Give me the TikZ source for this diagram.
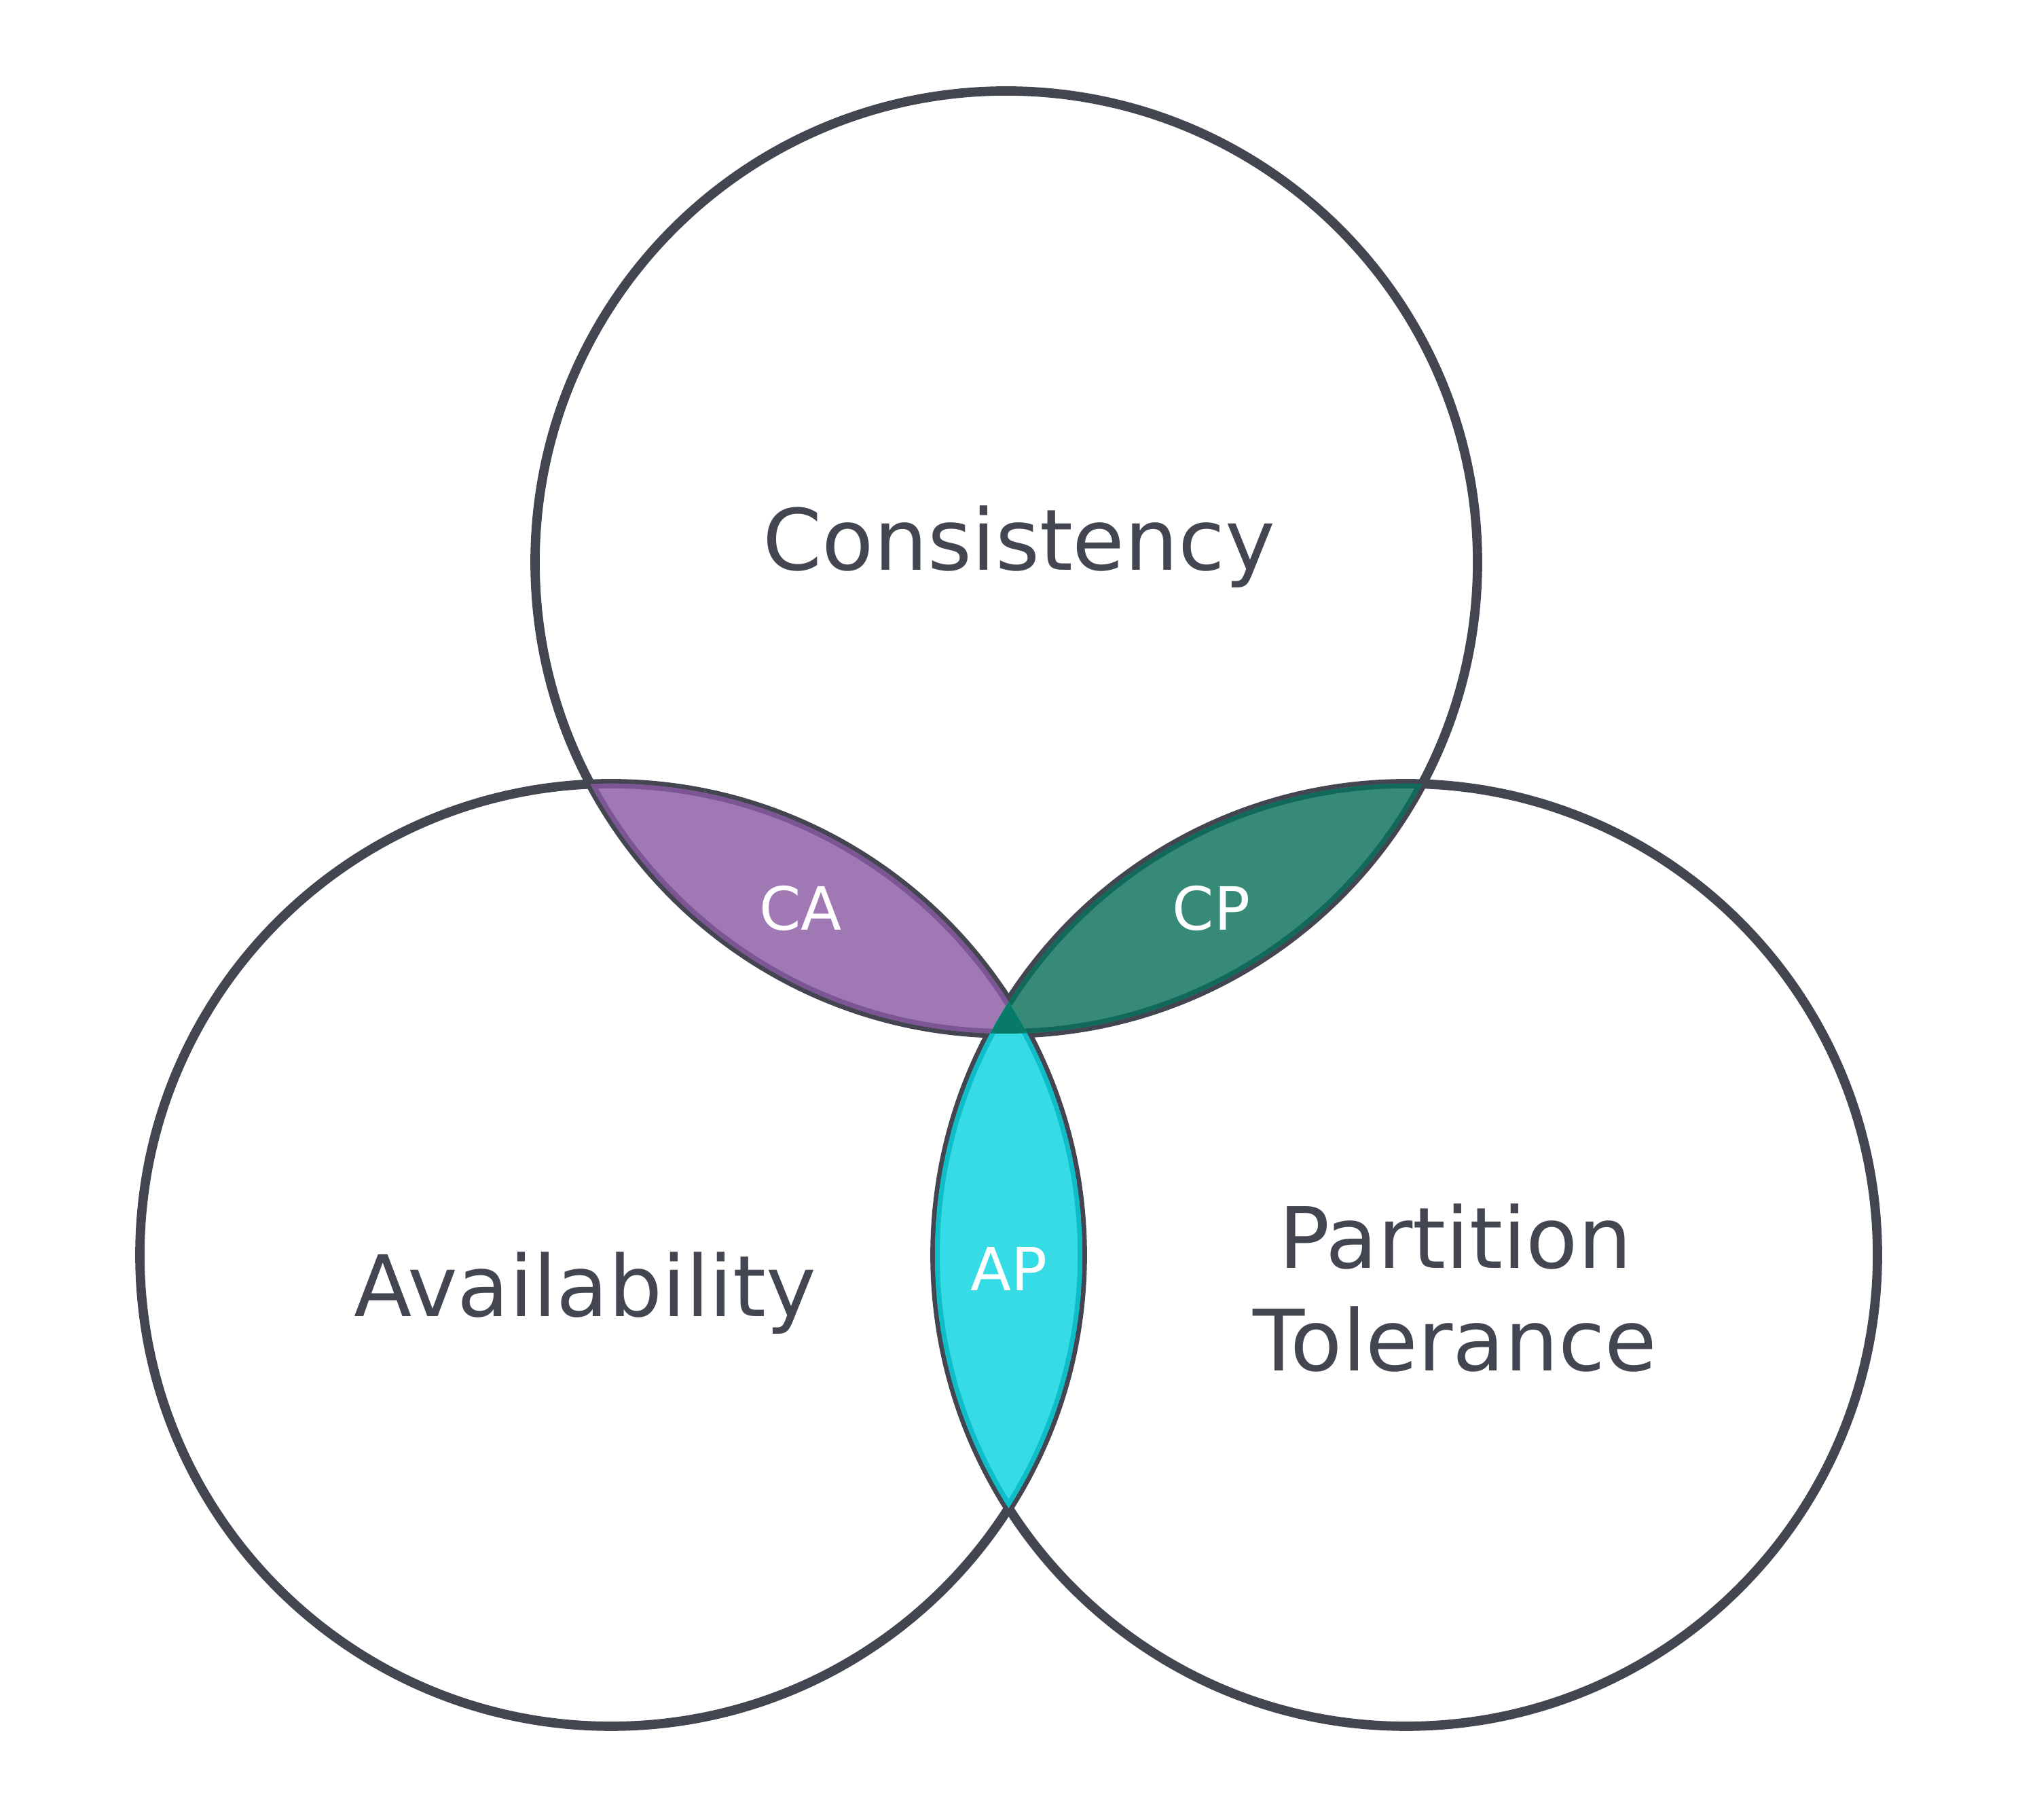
\documentclass[tikz,border=0pt]{standalone}
\usepackage{fontspec}
\setmainfont{DejaVu Sans}
\usepackage{xcolor}
\usepackage{tikz}

\definecolor{ringc}{HTML}{434651}
\definecolor{caFill}{HTML}{A078B4}
\definecolor{caEdge}{HTML}{7B5594}
\definecolor{cpFill}{HTML}{368A77}
\definecolor{cpEdge}{HTML}{10695A}
\definecolor{apFill}{HTML}{35DCE5}
\definecolor{apEdge}{HTML}{0EBDC8}
\definecolor{coreFill}{HTML}{077B67}

% the three sets
\def\circC{(14.82,18.52) circle (6.94)}
\def\circA{(9.00,8.32) circle (6.94)}
\def\circP{(20.71,8.32) circle (6.94)}

\begin{document}
\begin{tikzpicture}[
    ring/.style={draw=ringc, line width=3.9pt},
    edge/.style={line width=3.9pt},
    big/.style={font=\fontsize{35.5}{43.2}\selectfont, text=ringc, align=center},
    pair/.style={font=\fontsize{25}{30}\selectfont, text=white}
]
\useasboundingbox (0,0) rectangle (29.72,26.80);

% Circles
\draw[ring] \circC;
\draw[ring] \circA;
\draw[ring] \circP;

% CA overlap
\begin{scope}
  \clip \circC; \clip \circA;
  \fill[caFill] \circC;
  \draw[edge, caEdge] \circC \circA;
\end{scope}

% CP overlap
\begin{scope}
  \clip \circC; \clip \circP;
  \fill[cpFill] \circC;
  \draw[edge, cpEdge] \circC \circP;
\end{scope}

% AP overlap
\begin{scope}
  \clip \circA; \clip \circP;
  \fill[apFill] \circA;
  \draw[edge, apEdge] \circA \circP;
\end{scope}

% centre
\begin{scope}
  \clip \circC; \clip \circA;
  \fill[coreFill] \circP;
\end{scope}

% Labels
\node[big, anchor=base]  (cons)  at (15.01,18.40) {Consistency};
\node[big, anchor=base]  (avail) at (8.62,7.41)   {Availability};
\node[big, anchor=base]  (part)  at (21.43,6.61)  {Partition\\Tolerance};
\node[pair, anchor=base] (ca)    at (11.79,13.10) {CA};
\node[pair, anchor=base] (cp)    at (17.84,13.10) {CP};
\node[pair, anchor=base] (ap)    at (14.86,7.79)  {AP};

\end{tikzpicture}
\end{document}
